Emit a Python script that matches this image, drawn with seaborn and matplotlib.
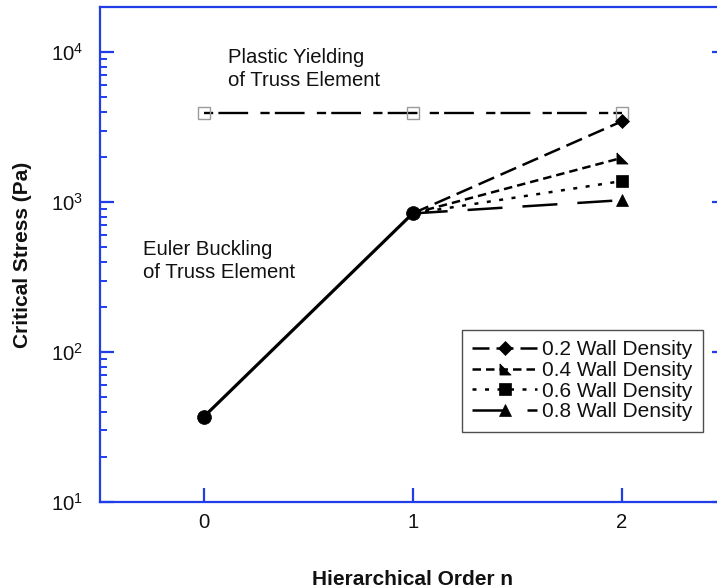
import numpy as np
import pandas as pd
import matplotlib
matplotlib.use("Agg")
import matplotlib.pyplot as plt
from matplotlib.ticker import LogLocator, NullFormatter
import seaborn as sns

# ---- data -------------------------------------------------------------
order_all = [0, 1, 2]
plastic_yield = [3950, 3950, 3950]

euler_order = [0, 1]
euler_stress = [37, 840]

branch_order = [1, 2]
densities = ["0.2", "0.4", "0.6", "0.8"]
stress_02 = [840, 3450]
stress_04 = [840, 1970]
stress_06 = [840, 1380]
stress_08 = [840, 1030]

x_ticks = [0, 1, 2]

# ---- style ------------------------------------------------------------
sns.set_theme(style="ticks")
plt.rcParams["font.family"] = ["Liberation Sans", "DejaVu Sans"]
plt.rcParams["mathtext.fontset"] = "custom"
plt.rcParams["mathtext.rm"] = "Liberation Sans"
plt.rcParams["mathtext.it"] = "Liberation Sans:italic"
plt.rcParams["mathtext.bf"] = "Liberation Sans:bold"
plt.rcParams["text.color"] = "#111111"
plt.rcParams["axes.labelcolor"] = "#111111"

axis_blue = "#1f3ee8"
fs = 14.6

fig = plt.figure(figsize=(7.17, 5.88), dpi=100)
ax = fig.add_axes([100 / 717, 86 / 588, 626 / 717, 495 / 588])

# plastic yielding limit
sns.lineplot(x=order_all, y=plastic_yield, ax=ax, color="black", lw=1.7,
             linestyle=(0, (3.9, 2.2, 12.6, 5.2)), marker="s", markersize=8,
             markerfacecolor="none", markeredgecolor="#9a9a9a",
             markeredgewidth=1.0, zorder=2)

# Euler buckling of the truss element
sns.lineplot(x=euler_order, y=euler_stress, ax=ax, color="black", lw=2.3,
             marker="o", markersize=10, markeredgecolor="black",
             markeredgewidth=0.5, zorder=4)

corner_tri = [(-1, 1), (-1, -1), (1, -1), (-1, 1)]
series = [
    (stress_02, "D", 7, (0, (6.8, 2.8))),
    (stress_04, corner_tri, 8, (0, (3.4, 2.0))),
    (stress_06, "s", 8, (0, (1.6, 3.4))),
    (stress_08, "^", 8, (0, (14, 8))),
]

handles = []
for dens, (vals, mk, ms, ls) in zip(densities, series):
    sns.lineplot(x=branch_order, y=vals, ax=ax, color="black", lw=1.8,
                 linestyle=ls, zorder=3)
    ln = ax.lines[-1]
    # marker only on the n = 2 end point
    ln.set_marker(mk)
    ln.set_markevery([1])
    ln.set_markersize(ms)
    ln.set_markerfacecolor("black")
    ln.set_markeredgecolor("black")
    ln.set_markeredgewidth(0.5)
    ln.set_label(f"{dens} Wall Density")
    handles.append(ln)

ax.set_yscale("log")
ax.set_ylim(10, 2e4)
ax.set_xlim(-0.497, 2.5)
ax.set_xticks(x_ticks)
ax.set_xticklabels([str(t) for t in x_ticks])
ax.yaxis.set_major_locator(LogLocator(base=10, numticks=10))
ax.yaxis.set_minor_locator(LogLocator(base=10, subs=np.arange(2, 10), numticks=20))
ax.yaxis.set_minor_formatter(NullFormatter())

for sp in ax.spines.values():
    sp.set_visible(True)
    sp.set_color(axis_blue)
    sp.set_linewidth(1.6)

ax.tick_params(axis="both", which="major", direction="in", length=10,
               width=1.6, color=axis_blue, labelsize=fs, labelcolor="#111111")
ax.tick_params(axis="y", which="major", pad=12)
ax.tick_params(axis="x", which="major", pad=8)
ax.tick_params(axis="y", which="minor", direction="in", length=5,
               width=1.4, color=axis_blue)
ax.tick_params(axis="y", which="both", right=True)
ax.tick_params(axis="x", which="both", top=False)
ax.tick_params(axis="x", which="minor", bottom=False)

ax.set_xlabel("Hierarchical Order n", fontsize=15, fontweight="bold", labelpad=27)
ax.set_ylabel("Critical Stress (Pa)", fontsize=15, fontweight="bold", labelpad=14)

ax.text(0.115, 7760, "Plastic Yielding\nof Truss Element", fontsize=fs,
        ha="left", va="center", linespacing=1.25)
ax.text(-0.291, 407, "Euler Buckling\nof Truss Element", fontsize=fs,
        ha="left", va="center", linespacing=1.25)

leg = ax.legend(handles=handles, loc="upper left",
                bbox_to_anchor=(362 / 626, 1 - 323 / 495),
                fontsize=15, numpoints=1, handlelength=3.1, handletextpad=0.25,
                labelspacing=0.08, borderpad=0.5, frameon=True,
                fancybox=False, borderaxespad=0, markerfirst=True)
leg.get_frame().set_edgecolor("#222222")
leg.get_frame().set_linewidth(1.0)
for t in leg.get_texts():
    t.set_color("#111111")

fig.savefig("out.png", dpi=100)
